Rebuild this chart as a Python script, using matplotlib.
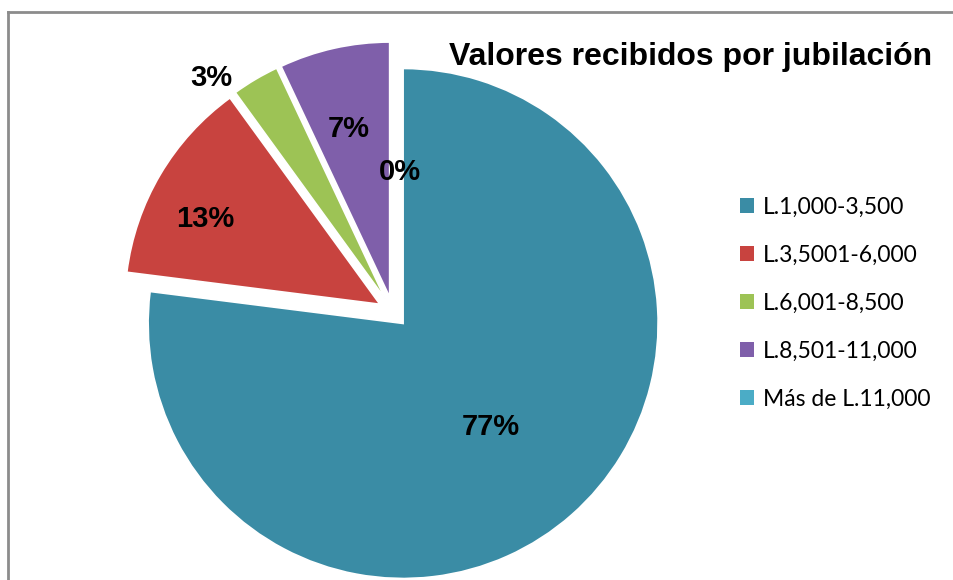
import numpy as np
import matplotlib.pyplot as plt
from matplotlib.patches import Patch
from matplotlib.lines import Line2D

# Data
categories = ["L.1,000-3,500", "L.3,5001-6,000", "L.6,001-8,500",
              "L.8,501-11,000", "Más de L.11,000"]
values = [77, 13, 3, 7, 0]
title = "Valores recibidos por jubilación"

colors = ["#3A8CA5", "#C8433F", "#9DC355", "#7F5FAA", "#4BACC6"]

# label placement tweaks (radius, angle shift in degrees)
label_r = [0.59, 0.82, 1.16, 0.74, 0.55]
label_shift = [-1, 4.3, 7.2, 1.1, -2.8]

W, H = 954, 580
cx, cy, R = 393, 312, 255  # pie centre / radius in pixels

fig = plt.figure(figsize=(W / 100, H / 100), dpi=100)
ax = fig.add_axes([0, 0, 1, 1])

wedges, _ = ax.pie(values, colors=colors, startangle=90, counterclock=False,
                   explode=[0.06] * len(values), radius=1,
                   wedgeprops=dict(edgecolor="white", linewidth=1.2))

ax.set_xlim(-cx / R, (W - cx) / R)
ax.set_ylim((cy - H) / R, cy / R)
ax.set_aspect("auto")
ax.axis("off")

# percentage labels
total = sum(values)
for w, v, r, s in zip(wedges, values, label_r, label_shift):
    ang = np.deg2rad((w.theta1 + w.theta2) / 2 + s)
    ax.text(r * np.cos(ang), r * np.sin(ang), f"{round(100 * v / total)}%",
            ha="center", va="center", fontsize=21, fontweight="bold",
            family="Liberation Sans", color="black")

fig.text(0.724, 0.902, title, ha="center", va="center", fontsize=23,
         fontweight="bold", family="Liberation Sans")

handles = [Patch(facecolor=c, edgecolor="none") for c in colors]
fig.legend(handles, categories, loc="upper left", bbox_to_anchor=(0.754, 0.697),
           frameon=False, prop=dict(family="Lato", size=16.5),
           handlelength=0.6, handleheight=0.6, handletextpad=0.4,
           labelspacing=1.18)

# chart frame (top and left edges visible)
fig.add_artist(Line2D([8.5 / W, 1], [1 - 11.5 / H, 1 - 11.5 / H],
                      color="#8C8C8C", lw=2, transform=fig.transFigure))
fig.add_artist(Line2D([8.5 / W, 8.5 / W], [0, 1 - 11.5 / H],
                      color="#8C8C8C", lw=2, transform=fig.transFigure))

fig.savefig("out.png", dpi=100)
